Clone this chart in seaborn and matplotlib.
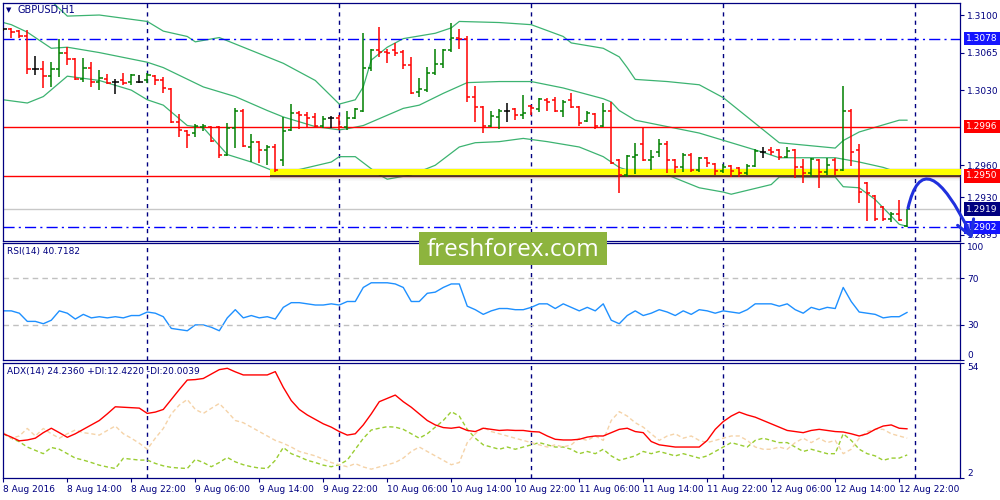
import numpy as np
import matplotlib
matplotlib.use("Agg")
import matplotlib.pyplot as plt
import matplotlib.transforms as mtransforms
from matplotlib.path import Path
from matplotlib.patches import PathPatch, Rectangle
import seaborn as sns

# ---- GBPUSD H1, 8 Aug 06:00 .. 12 Aug 23:00 ----
time_labels = ["8 Aug 2016", "8 Aug 14:00", "8 Aug 22:00", "9 Aug 06:00", "9 Aug 14:00",
               "9 Aug 22:00", "10 Aug 06:00", "10 Aug 14:00", "10 Aug 22:00", "11 Aug 06:00",
               "11 Aug 14:00", "11 Aug 22:00", "12 Aug 06:00", "12 Aug 14:00", "12 Aug 22:00"]

opens = [1.3087, 1.3087, 1.3085, 1.3080, 1.3050, 1.3050, 1.3043, 1.3050, 1.3065, 1.3059,
         1.3040, 1.3051, 1.3038, 1.3040, 1.3038, 1.3039, 1.3038, 1.3038, 1.3039, 1.3043,
         1.3039, 1.3031, 1.3000, 1.2992, 1.2990, 1.2996, 1.2996, 1.2996, 1.2970, 1.2995,
         1.3011, 1.2977, 1.2982, 1.2974, 1.2977, 1.2965, 1.2993, 1.3009, 1.3007, 1.3005,
         1.2997, 1.3004, 1.3004, 1.2996, 1.3004, 1.3011, 1.3051, 1.3067, 1.3066, 1.3067,
         1.3066, 1.3053, 1.3028, 1.3030, 1.3046, 1.3054, 1.3067, 1.3079, 1.3078, 1.3024,
         1.3014, 1.2997, 1.3005, 1.3011, 1.3012, 1.3007, 1.3015, 1.3012, 1.3021, 1.3021,
         1.3011, 1.3021, 1.3014, 1.3001, 1.3008, 1.2997, 1.3011, 1.2965, 1.2951, 1.2968,
         1.2980, 1.2965, 1.2972, 1.2980, 1.2965, 1.2958, 1.2970, 1.2956, 1.2967, 1.2961,
         1.2955, 1.2959, 1.2957, 1.2953, 1.2959, 1.2972, 1.2974, 1.2974, 1.2968, 1.2974,
         1.2958, 1.2953, 1.2965, 1.2954, 1.2965, 1.2956, 1.3011, 1.2974, 1.2943, 1.2931,
         1.2921, 1.2910, 1.2915, 1.2903]
highs = [1.3088, 1.3088, 1.3086, 1.3086, 1.3062, 1.3057, 1.3056, 1.3078, 1.3070, 1.3060,
         1.3060, 1.3056, 1.3049, 1.3045, 1.3040, 1.3046, 1.3045, 1.3044, 1.3046, 1.3044,
         1.3042, 1.3032, 1.3008, 1.2993, 1.2998, 1.2998, 1.2997, 1.2997, 1.2999, 1.3013,
         1.3012, 1.2989, 1.2983, 1.2979, 1.2980, 1.3005, 1.3017, 1.3011, 1.3010, 1.3009,
         1.3006, 1.3006, 1.3007, 1.3011, 1.3013, 1.3083, 1.3068, 1.3089, 1.3068, 1.3074,
         1.3067, 1.3061, 1.3041, 1.3052, 1.3068, 1.3068, 1.3093, 1.3087, 1.3080, 1.3034,
         1.3015, 1.3011, 1.3012, 1.3018, 1.3013, 1.3025, 1.3016, 1.3023, 1.3023, 1.3024,
         1.3021, 1.3027, 1.3015, 1.3011, 1.3009, 1.3018, 1.3019, 1.2966, 1.2970, 1.2981,
         1.2996, 1.2974, 1.2984, 1.2983, 1.2966, 1.2971, 1.2971, 1.2968, 1.2968, 1.2962,
         1.2961, 1.2960, 1.2958, 1.2961, 1.2975, 1.2977, 1.2977, 1.2975, 1.2977, 1.2975,
         1.2966, 1.2967, 1.2966, 1.2967, 1.2967, 1.3034, 1.3012, 1.2980, 1.2944, 1.2932,
         1.2922, 1.2916, 1.2928, 1.2919]
lows = [1.3085, 1.3079, 1.3079, 1.3045, 1.3044, 1.3032, 1.3033, 1.3042, 1.3053, 1.3039,
        1.3038, 1.3033, 1.3030, 1.3036, 1.3026, 1.3035, 1.3035, 1.3037, 1.3037, 1.3035,
        1.3027, 1.2999, 1.2986, 1.2976, 1.2986, 1.2992, 1.2982, 1.2967, 1.2969, 1.2976,
        1.2977, 1.2963, 1.2962, 1.2960, 1.2954, 1.2959, 1.2992, 1.2994, 1.2995, 1.2996,
        1.2995, 1.2995, 1.2993, 1.2993, 1.3003, 1.3010, 1.3048, 1.3061, 1.3055, 1.3062,
        1.3050, 1.3026, 1.3024, 1.3028, 1.3044, 1.3051, 1.3066, 1.3068, 1.3019, 1.3000,
        1.2990, 1.2996, 1.2994, 1.3000, 1.3002, 1.3003, 1.3007, 1.3010, 1.3011, 1.3010,
        1.3005, 1.3013, 1.2997, 1.3000, 1.2994, 1.2996, 1.2961, 1.2934, 1.2949, 1.2952,
        1.2964, 1.2956, 1.2968, 1.2953, 1.2953, 1.2954, 1.2954, 1.2954, 1.2958, 1.2951,
        1.2953, 1.2949, 1.2949, 1.2951, 1.2958, 1.2967, 1.2970, 1.2965, 1.2967, 1.2948,
        1.2943, 1.2949, 1.2939, 1.2951, 1.2951, 1.2955, 1.2959, 1.2925, 1.2908, 1.2908,
        1.2908, 1.2907, 1.2908, 1.2902]
closes = [1.3087, 1.3084, 1.3080, 1.3050, 1.3050, 1.3043, 1.3050, 1.3065, 1.3059, 1.3040,
          1.3051, 1.3038, 1.3041, 1.3037, 1.3038, 1.3037, 1.3044, 1.3038, 1.3044, 1.3039,
          1.3032, 1.3000, 1.2993, 1.2988, 1.2997, 1.2997, 1.2983, 1.2970, 1.2995, 1.3011,
          1.2978, 1.2982, 1.2974, 1.2977, 1.2956, 1.2992, 1.3009, 1.3007, 1.3004, 1.2997,
          1.3003, 1.3004, 1.2996, 1.3004, 1.3012, 1.3051, 1.3067, 1.3066, 1.3065, 1.3065,
          1.3053, 1.3027, 1.3031, 1.3046, 1.3054, 1.3067, 1.3079, 1.3078, 1.3024, 1.3014,
          1.2997, 1.3006, 1.3011, 1.3011, 1.3007, 1.3009, 1.3013, 1.3022, 1.3019, 1.3011,
          1.3019, 1.3014, 1.2999, 1.3009, 1.2997, 1.3011, 1.2962, 1.2951, 1.2969, 1.2970,
          1.2965, 1.2968, 1.2980, 1.2965, 1.2958, 1.2970, 1.2956, 1.2967, 1.2962, 1.2955,
          1.2958, 1.2955, 1.2953, 1.2959, 1.2973, 1.2972, 1.2972, 1.2968, 1.2973, 1.2958,
          1.2953, 1.2966, 1.2954, 1.2960, 1.2956, 1.3011, 1.2972, 1.2935, 1.2934, 1.2910,
          1.2910, 1.2915, 1.2909, 1.2919]

# Bollinger bands (bar index, price)
upper_idx = [0, 4, 6, 8, 12, 18, 20, 23, 24, 27, 31, 35, 39, 42, 44, 45, 46, 48, 50, 54,
             56, 57, 62, 66, 70, 71, 75, 77, 78, 79, 83, 87, 90, 94, 97, 104, 105, 107, 112, 113]
upper_band = [1.3135, 1.3122, 1.3113, 1.3099, 1.3100, 1.3094, 1.3085, 1.3080, 1.3075, 1.3079,
              1.3067, 1.3055, 1.3039, 1.3017, 1.3021, 1.3033, 1.3058, 1.3070, 1.3078, 1.3083,
              1.3088, 1.3094, 1.3093, 1.3091, 1.3080, 1.3074, 1.3069, 1.3061, 1.3051, 1.3040,
              1.3038, 1.3035, 1.3023, 1.2999, 1.2981, 1.2976, 1.2983, 1.2991, 1.3002, 1.3002]
mid_idx = [0, 1, 3, 6, 8, 12, 18, 20, 25, 29, 33, 35, 39, 42, 43, 45, 50, 52, 55, 58,
           62, 66, 70, 75, 76, 77, 79, 83, 87, 91, 95, 97, 104, 107, 110, 112, 113]
mid_band = [1.3093, 1.3091, 1.3084, 1.3069, 1.3070, 1.3065, 1.3056, 1.3051, 1.3033, 1.3024,
            1.3011, 1.3005, 1.2996, 1.2993, 1.2994, 1.2997, 1.3013, 1.3016, 1.3027, 1.3037,
            1.3038, 1.3038, 1.3032, 1.3022, 1.3019, 1.3011, 1.3002, 1.2996, 1.2990, 1.2981,
            1.2972, 1.2967, 1.2967, 1.2963, 1.2958, 1.2953, 1.2952]
lower_idx = [0, 3, 5, 8, 12, 16, 18, 20, 23, 25, 28, 31, 34, 37, 41, 42, 44, 47, 48, 51,
             54, 57, 59, 62, 65, 68, 72, 75, 77, 79, 83, 87, 90, 91, 96, 97, 104, 105, 107, 109,
             112, 113]
lower_band = [1.3021, 1.3018, 1.3024, 1.3043, 1.3039, 1.3030, 1.3021, 1.3016, 1.2997, 1.2995,
              1.2970, 1.2963, 1.2954, 1.2956, 1.2963, 1.2968, 1.2968, 1.2951, 1.2947, 1.2951,
              1.2960, 1.2977, 1.2981, 1.2982, 1.2985, 1.2982, 1.2977, 1.2968, 1.2958, 1.2953,
              1.2951, 1.2939, 1.2935, 1.2933, 1.2942, 1.2949, 1.2949, 1.2940, 1.2939, 1.2928,
              1.2905, 1.2903]

rsi = [42, 42, 40, 33, 33, 31, 34, 42, 40, 35,
       39, 36, 37, 36, 37, 36, 38, 38, 41, 40,
       37, 27, 26, 25, 30, 30, 28, 25, 36, 43,
       36, 38, 36, 37, 35, 45, 49, 49, 48, 47,
       47, 48, 47, 50, 50, 62, 66, 66, 66, 65,
       62, 50, 50, 57, 58, 62, 65, 65, 46, 43,
       39, 42, 44, 44, 43, 43, 45, 48, 48, 44,
       48, 45, 42, 45, 42, 48, 34, 31, 38, 42,
       38, 40, 43, 41, 38, 42, 39, 43, 42, 40,
       42, 41, 40, 43, 48, 48, 48, 46, 48, 43,
       40, 45, 43, 45, 44, 62, 50, 41, 40, 39,
       36, 37, 37, 40.7182]
adx = [22, 20.5, 18.8, 19.2, 20, 22.5, 24.5, 22.5, 20.4, 22,
       24, 26, 28, 31, 34.2, 34, 33.8, 33.6, 31.2, 31.8,
       33, 37.5, 42, 46.3, 46.5, 47, 49, 51, 51.6, 50,
       48.6, 48.6, 48.6, 48.6, 50.1, 43, 37, 33, 30.5, 28.5,
       26.5, 25, 23, 21.4, 22, 26, 31, 36.5, 38, 39.5,
       36.5, 34, 31, 28, 26, 24.8, 24.5, 25, 23.5, 23,
       24.5, 24, 23.5, 23.7, 23.5, 23.5, 23, 22.8, 21, 19.5,
       19.2, 19.2, 19.5, 20.5, 21, 21, 22.5, 24, 24.5, 23,
       22.5, 18.5, 17, 16.5, 16, 16, 16, 16, 19, 24,
       27.5, 30, 31.8, 30.5, 29.5, 28, 26.5, 25, 23.5, 23,
       22.5, 23.5, 24, 23.5, 23, 22.8, 22, 21, 22, 24,
       25.5, 26, 24.5, 24.236]
plus_di = [22, 20, 18.4, 16, 14.5, 13, 15.8, 15, 13, 11,
           10.1, 9, 7.8, 7, 6.3, 10.9, 10.5, 10.1, 10.1, 8.6,
           7.5, 6.8, 6.5, 6.3, 10.4, 9, 7.1, 9, 11.3, 9.3,
           8, 7.1, 6.5, 6.3, 10, 15.8, 13, 11.6, 10, 9,
           7.8, 7.1, 8, 10.1, 15, 19.9, 23.7, 24.5, 25.2, 25,
           24, 22, 20, 22, 25, 28, 32, 30, 24, 20,
           17, 16, 15, 16, 15, 16, 17, 18, 17, 16,
           16, 15, 13, 14, 13, 15, 12, 10, 11, 12,
           14, 13, 14, 13, 12, 13, 12, 11, 12, 14,
           16, 18, 17, 16, 19, 20, 19, 18, 18, 16,
           14, 15, 14, 13, 13, 22, 19, 15, 13, 12,
           10, 11, 11, 12.422]
minus_di = [22.5, 20, 21, 24.4, 21, 24.4, 22, 20, 22, 23.7,
            22.5, 22, 21.4, 23.5, 25.5, 22, 20, 17.7, 15, 20,
            24.4, 31, 35, 37.5, 33, 31.2, 33.5, 35.7, 32, 28,
            27, 25, 23, 21, 19, 17.7, 16, 14, 13, 12,
            10.5, 9, 8, 7.1, 8.5, 7, 6, 7, 8, 9,
            11, 14, 16, 14, 12, 10, 8, 9, 18, 22,
            25, 23, 22, 21, 20, 19, 18, 17, 16, 17,
            16, 17, 20, 19, 21, 19, 28, 32, 30, 27,
            25, 22, 19, 21, 22, 20, 21, 19, 18, 19,
            20, 21, 21, 19, 16, 15, 15, 16, 15, 18,
            20, 18, 20, 18, 19, 13, 15, 20, 23, 24,
            24, 22, 21, 20.0039]

price_ticks = [1.3100, 1.3065, 1.3030, 1.2960, 1.2930, 1.2895]
day_breaks = [18, 42, 66, 90, 114]
resistance = 1.3078
level_1 = 1.2996
level_2 = 1.2950
bid = 1.2919
support = 1.2902

navy = "#000080"
sns.set_style("white")
plt.rcParams["font.family"] = ["DejaVu Sans"]
plt.rcParams["axes.linewidth"] = 0.9

fig = plt.figure(figsize=(10, 5), dpi=100)
ax = fig.add_axes([0.003, 0.518, 0.957, 0.476])
ax_rsi = fig.add_axes([0.003, 0.28, 0.957, 0.234])
ax_adx = fig.add_axes([0.003, 0.044, 0.957, 0.230])

x = np.arange(len(opens))
o, h, l, c = map(np.array, (opens, highs, lows, closes))
col = np.where(c > o, "#008000", np.where(c < o, "#ff0000", "#000000"))

# price panel
ax.vlines(x, l, h, colors=col, lw=1.1, zorder=4)
ax.hlines(o, x - 0.4, x, colors=col, lw=1.1, zorder=4)
ax.hlines(c, x, x + 0.4, colors=col, lw=1.1, zorder=4)
for bx, by in [(upper_idx, upper_band), (mid_idx, mid_band), (lower_idx, lower_band)]:
    sns.lineplot(x=bx, y=by, ax=ax, color="#3cb371", lw=0.9, estimator=None, legend=False)

dashdot = (0, (8, 3, 1.5, 3))
ax.axhline(resistance, color="#0000ff", lw=1, ls=dashdot, zorder=2)
ax.axhline(support, color="#0000ff", lw=1, ls=dashdot, zorder=2)
ax.axhline(level_1, color="#ff0000", lw=1, zorder=2)
ax.axhline(level_2, color="#ff0000", lw=1, zorder=2)
ax.axhline(bid, color="#c8c8c8", lw=1, zorder=1)
# highlighted 1.2950 zone
x0 = 33.4
ax.fill_between([x0, 120], 1.29505, 1.29565, color="#ffff00", lw=0, zorder=3)
ax.hlines(1.29502, x0, 120, color="#3a2a10", lw=1.2, zorder=3)
for k, a in enumerate([0.30, 0.20, 0.12, 0.06, 0.03]):
    y1 = 1.29497 - k * 0.00009
    ax.fill_between([x0, 120], y1 - 0.00009, y1, color="#505050", alpha=a, lw=0, zorder=3)
ax.fill_between([x0, 120], 1.29565, 1.29575, color="#a0a0a0", alpha=0.2, lw=0, zorder=3)

ax.set_ylim(1.28894, 1.31112)

# right-hand price labels
ax.yaxis.tick_right()
ax.set_yticks(price_ticks)
ax.set_yticklabels([f"{p:.4f}" for p in price_ticks])
trans = mtransforms.blended_transform_factory(ax.transAxes, ax.transData)
for val, fc in [(resistance, "#1414ff"), (level_1, "#ff0000"), (level_2, "#ff0000"),
                (bid, navy), (support, "#1414ff")]:
    ax.annotate(f"{val:.4f}", xy=(1, val), xycoords=trans, xytext=(4.6, 0),
                textcoords="offset points", ha="left", va="center", fontsize=6.5,
                color="white", annotation_clip=False, zorder=6,
                bbox=dict(boxstyle="square,pad=0.25", fc=fc, ec="none"))

# hand-drawn forecast arrow
arrow_blue = "#2030dd"
arrow_path = Path([(113.1, 1.2920), (115.1, 1.2985), (121.0, 1.2895)],
                  [Path.MOVETO, Path.CURVE3, Path.CURVE3])
ax.add_patch(PathPatch(arrow_path, fc="none", ec=arrow_blue, lw=2.2, clip_on=False,
                       zorder=12, capstyle="round"))
ax.plot([119.3, 121.0, 121.3], [1.29040, 1.2894, 1.29100], color=arrow_blue, lw=2.2,
        clip_on=False, zorder=12, solid_capstyle="round", solid_joinstyle="round")

# RSI panel
sns.lineplot(x=x, y=rsi, ax=ax_rsi, color="#1e90ff", lw=1, estimator=None, legend=False)
for lv in (70, 30):
    ax_rsi.axhline(lv, color="#c0c0c0", lw=1, ls=(0, (4, 3)))
ax_rsi.set_ylim(0, 100)
ax_rsi.yaxis.tick_right()
ax_rsi.set_yticks([0, 30, 70, 100])
ax_rsi.set_yticklabels(["0", "30", "70", "100"])

# ADX panel
sns.lineplot(x=x, y=plus_di, ax=ax_adx, color="#9acd32", lw=1, estimator=None, legend=False)
sns.lineplot(x=x, y=minus_di, ax=ax_adx, color="#f5d3a8", lw=1, estimator=None, legend=False)
sns.lineplot(x=x, y=adx, ax=ax_adx, color="#ff0000", lw=1, estimator=None, legend=False)
ax_adx.lines[0].set_linestyle((0, (3, 2)))
ax_adx.lines[1].set_linestyle((0, (3, 2)))
ax_adx.set_ylim(2, 54)
ax_adx.yaxis.tick_right()
ax_adx.set_yticks([2, 54])
ax_adx.set_yticklabels(["2", "54"])

for a in (ax_rsi, ax_adx):
    labels = a.get_yticklabels()
    labels[0].set_va("bottom")
    labels[-1].set_va("top")

for a in (ax, ax_rsi, ax_adx):
    a.set_xlim(-0.04, 119.6)
    for sp in a.spines.values():
        sp.set_color(navy)
        sp.set_linewidth(0.9)
    for d in day_breaks:
        a.axvline(d, color=navy, lw=1, ls=(0, (3, 3)), zorder=1)
    a.set_xlabel("")
    a.set_ylabel("")
    a.tick_params(axis="y", which="both", direction="out", length=3, width=0.8,
                  color=navy, labelcolor=navy, labelsize=6.5, pad=2, right=True, left=False)
    a.tick_params(axis="x", bottom=False, labelbottom=False)

ax_adx.set_xticks(np.arange(0, 113, 8))
ax_adx.set_xticklabels(time_labels, ha="left")
ax_adx.tick_params(axis="x", bottom=True, labelbottom=True, direction="out", length=3,
                   width=0.8, color=navy, labelcolor=navy, labelsize=6.5, pad=2)

# header texts
fig.text(0.006, 0.979, "\u25bc", fontsize=5, color=navy, va="center")
fig.text(0.018, 0.979, "GBPUSD,H1", fontsize=7, color=navy, va="center")
fig.text(0.007, 0.497, "RSI(14) 40.7182", fontsize=6.5, color=navy, va="center")
fig.text(0.007, 0.257, "ADX(14) 24.2360 +DI:12.4220 -DI:20.0039", fontsize=6.5,
         color=navy, va="center")

# watermark
fig.add_artist(Rectangle((0.419, 0.470), 0.188, 0.066, transform=fig.transFigure,
                         fc="#8db43e", ec="none", zorder=20))
fig.text(0.513, 0.501, "freshforex.com", fontsize=17.5, color="white", ha="center",
         va="center", family=["Open Sans", "DejaVu Sans"], zorder=21)

fig.savefig("out.png", dpi=100)
